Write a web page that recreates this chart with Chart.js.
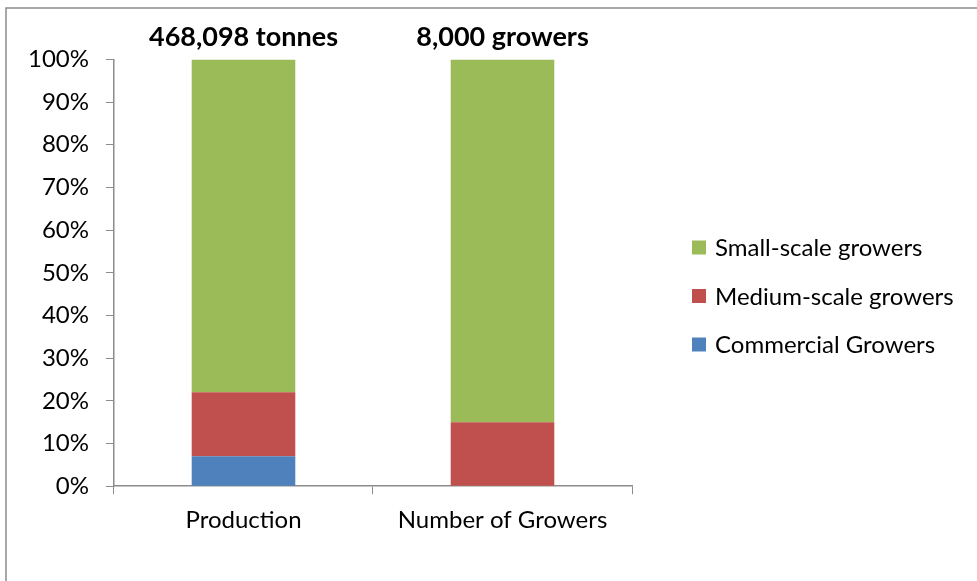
<!DOCTYPE html>
<html><head><meta charset="utf-8">
<script src="https://cdn.jsdelivr.net/npm/chart.js@4"></script>
<style>html,body{margin:0;padding:0;background:#fff}#wrap{width:977px;height:581px}</style>
</head><body><div id="wrap"><canvas id="c" width="977" height="581"></canvas></div>
<script>
const categories = ["Production", "Number of Growers"];
const topLabels = ["468,098 tonnes", "8,000 growers"];
const commercial = [7, 0];
const medium = [15, 15];
const small = [78, 85];
const yTicks = [0,10,20,30,40,50,60,70,80,90,100];

const FONT = 'Lato, "Open Sans", sans-serif';

const frame = {
  id: 'frame',
  beforeDraw(chart) {
    const ctx = chart.ctx;
    ctx.save();
    ctx.fillStyle = '#fff';
    ctx.fillRect(0,0,chart.width,chart.height);
    ctx.strokeStyle = '#8c8c8c';
    ctx.lineWidth = 1.5;
    ctx.strokeRect(6, 8, 1200, 1200);
    ctx.restore();
  }
};
// Legend drawn to the right of the plot (built from the datasets, listed top-down in reverse order)
const sideLegend = {
  id: 'sideLegend',
  afterDraw(chart) {
    const ctx = chart.ctx;
    const items = chart.data.datasets.slice().reverse();
    const x0 = chart.chartArea.right + 60, yc = 296, gap = 48.5;
    ctx.save();
    ctx.font = '24px ' + FONT;
    ctx.textBaseline = 'middle';
    ctx.textAlign = 'left';
    items.forEach((ds, i) => {
      const y = yc + (i - (items.length - 1) / 2) * gap;
      ctx.fillStyle = ds.backgroundColor;
      ctx.fillRect(x0, y - 7, 14, 14);
      ctx.fillStyle = '#000';
      ctx.fillText(ds.label, x0 + 23, y + 1);
    });
    ctx.restore();
  }
};

new Chart(document.getElementById('c'), {
  type: 'bar',
  data: {
    labels: categories,
    datasets: [
      {label: 'Commercial Growers', data: commercial, backgroundColor: '#4f81bd', barPercentage: 0.4, categoryPercentage: 1},
      {label: 'Medium-scale growers', data: medium, backgroundColor: '#c0504d', barPercentage: 0.4, categoryPercentage: 1},
      {label: 'Small-scale growers', data: small, backgroundColor: '#9bbb59', barPercentage: 0.4, categoryPercentage: 1}
    ]
  },
  options: {
    responsive: false,
    animation: false,
    devicePixelRatio: 1,
    layout: {padding: {top: 23, left: 11, right: 345, bottom: 34}},
    plugins: {
      tooltip: {enabled: false},
      legend: {display: false}
    },
    scales: {
      x: {
        stacked: true,
        offset: true,
        grid: {display: true, drawOnChartArea: false, drawTicks: true, tickLength: 8, color: '#8c8c8c', offset: true},
        border: {display: true, color: '#8c8c8c', width: 1.5},
        ticks: {font: {family: FONT, size: 24}, color: '#000', padding: 12}
      },
      x2: {
        type: 'category',
        labels: topLabels,
        position: 'top',
        offset: true,
        grid: {display: false},
        border: {display: false},
        ticks: {font: {family: FONT, size: 27, weight: 'bold'}, color: '#000', padding: -2}
      },
      y: {
        stacked: true,
        min: 0, max: 100,
        afterBuildTicks(axis) { axis.ticks = yTicks.map(v => ({value: v})); },
        grid: {display: true, drawOnChartArea: false, drawTicks: true, tickLength: 8, color: '#8c8c8c'},
        border: {display: true, color: '#8c8c8c', width: 1.5},
        ticks: {font: {family: FONT, size: 24}, color: '#000', padding: 17, callback: v => v + '%'}
      }
    }
  },
  plugins: [frame, sideLegend]
});
</script></body></html>
